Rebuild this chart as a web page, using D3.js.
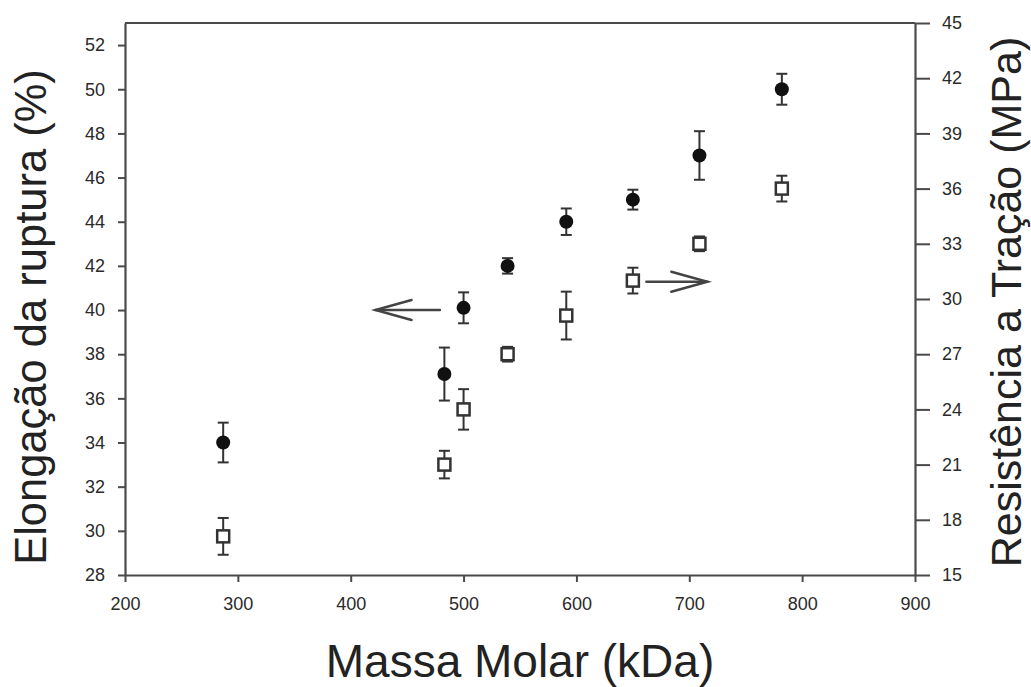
<!DOCTYPE html>
<html>
<head>
<meta charset="utf-8">
<script src="https://cdn.jsdelivr.net/npm/d3@7"></script>
<style>
  html, body { margin: 0; padding: 0; background: #fff; }
  svg { display: block; }
  text { font-family: "Liberation Sans", Arial, sans-serif; }
</style>
</head>
<body>
<svg id="chart" width="1031" height="687"></svg>
<script>
// Molar mass of the samples (kDa)
const massa = [287, 483, 500, 539, 591, 650, 709, 782];
// Elongation at break (%) and its error
const elongacao = [34.0, 37.1, 40.1, 42.0, 44.0, 45.0, 47.0, 50.0];
const elongacaoErro = [0.9, 1.2, 0.7, 0.35, 0.6, 0.45, 1.1, 0.7];
// Tensile strength (MPa) and its error
const resistencia = [17.1, 21.0, 24.0, 27.0, 29.1, 31.0, 33.0, 36.0];
const resistenciaErro = [1.0, 0.75, 1.1, 0.4, 1.3, 0.7, 0.4, 0.7];
// Tick values
const xTicks = [200, 300, 400, 500, 600, 700, 800, 900];
const yLeftTicks = [28, 30, 32, 34, 36, 38, 40, 42, 44, 46, 48, 50, 52];
const yRightTicks = [15, 18, 21, 24, 27, 30, 33, 36, 39, 42, 45];

const svg = d3.select("#chart");
const plotLeft = 125, plotRight = 915, plotTop = 23, plotBottom = 575;
const axisColor = "#4a4a4a";
const textColor = "#2a2a2a";

const x = d3.scaleLinear().domain([200, 900]).range([plotLeft, plotRight]);
const yL = d3.scaleLinear().domain([28, 53]).range([plotBottom, plotTop]);
const yR = d3.scaleLinear().domain([15, 45]).range([plotBottom, plotTop]);

// frame (top edge)
svg.append("line").attr("x1", plotLeft).attr("x2", plotRight).attr("y1", plotTop).attr("y2", plotTop)
  .attr("stroke", axisColor).attr("stroke-width", 2.2);

function styleAxis(g) {
  g.select(".domain").attr("stroke", axisColor).attr("stroke-width", 2.2);
  g.selectAll(".tick line").attr("stroke", axisColor).attr("stroke-width", 2);
  g.selectAll(".tick text").attr("fill", textColor).style("font-size", "18px")
    .style("font-family", "'Liberation Sans', Arial, sans-serif");
}

svg.append("g").attr("transform", `translate(0,${plotBottom})`)
  .call(d3.axisBottom(x).tickValues(xTicks).tickSize(7).tickSizeOuter(0).tickPadding(15))
  .call(styleAxis);

svg.append("g").attr("transform", `translate(${plotLeft},0)`)
  .call(d3.axisLeft(yL).tickValues(yLeftTicks).tickSize(7).tickSizeOuter(0).tickPadding(13))
  .call(styleAxis);

svg.append("g").attr("transform", `translate(${plotRight},0)`)
  .call(d3.axisRight(yR).tickValues(yRightTicks).tickSize(15).tickSizeOuter(0).tickPadding(12))
  .call(styleAxis);

// error bars helper
function errorBars(values, errs, yScale) {
  const g = svg.append("g").attr("stroke", "#333").attr("stroke-width", 2);
  massa.forEach((m, i) => {
    const cx = x(m);
    const y1 = yScale(values[i] + errs[i]);
    const y2 = yScale(values[i] - errs[i]);
    g.append("line").attr("x1", cx).attr("x2", cx).attr("y1", y1).attr("y2", y2);
    g.append("line").attr("x1", cx - 5.5).attr("x2", cx + 5.5).attr("y1", y1).attr("y2", y1);
    g.append("line").attr("x1", cx - 5.5).attr("x2", cx + 5.5).attr("y1", y2).attr("y2", y2);
  });
}

errorBars(elongacao, elongacaoErro, yL);
errorBars(resistencia, resistenciaErro, yR);

// elongation: filled circles
svg.append("g").selectAll("circle").data(massa).join("circle")
  .attr("cx", d => x(d))
  .attr("cy", (d, i) => yL(elongacao[i]))
  .attr("r", 7)
  .attr("fill", "#111");

// tensile strength: open squares
svg.append("g").selectAll("rect").data(massa).join("rect")
  .attr("x", d => x(d) - 6)
  .attr("y", (d, i) => yR(resistencia[i]) - 6)
  .attr("width", 12).attr("height", 12)
  .attr("fill", "#fff").attr("stroke", "#333").attr("stroke-width", 2.5);

// arrows pointing to each series' axis
function arrow(x1, x2, yv, yScale) {
  const xa = x(x1), xb = x(x2), yy = yScale(yv);
  const dir = xb > xa ? 1 : -1;
  const g = svg.append("g").attr("stroke", "#444").attr("fill", "none")
    .attr("stroke-width", 2.5).attr("stroke-linecap", "round");
  g.append("line").attr("x1", xa).attr("x2", xb).attr("y1", yy).attr("y2", yy);
  g.append("path").attr("d",
    `M${xb - dir * 36},${yy - 10} L${xb},${yy} L${xb - dir * 36},${yy + 10}`);
}
arrow(479, 422, 40.0, yL);
arrow(662, 716, 30.94, yR);

// axis titles
svg.append("text")
  .attr("transform", `translate(46,317) rotate(-90)`)
  .attr("text-anchor", "middle").attr("fill", "#222")
  .style("font-size", "43.5px")
  .text("Elongação da ruptura (%)");

svg.append("text")
  .attr("transform", `translate(1021,302) rotate(-90)`)
  .attr("text-anchor", "middle").attr("fill", "#222")
  .style("font-size", "43px")
  .text("Resistência a Tração (MPa)");

svg.append("text")
  .attr("x", 520).attr("y", 677)
  .attr("text-anchor", "middle").attr("fill", "#222")
  .style("font-size", "46px")
  .text("Massa Molar (kDa)");
</script>
</body>
</html>
